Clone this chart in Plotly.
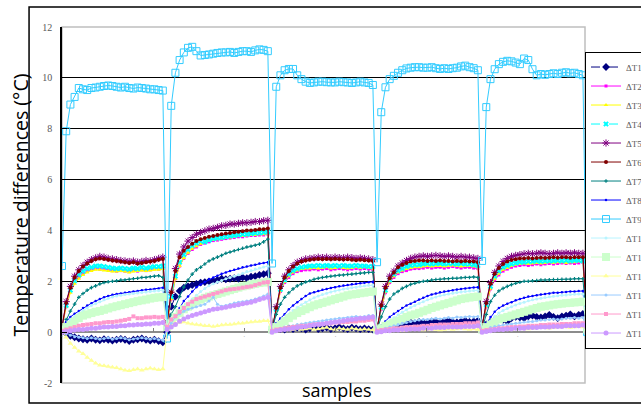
import plotly.graph_objects as go

# sample index (5 heating cycles of 25 samples; last point = start of the next, clipped cycle)
samples = list(range(126))

T1 = [0.05, -0.05, -0.15, -0.2, -0.25, -0.28, -0.3, -0.25, -0.3, -0.32, -0.28, -0.3, -0.33, -0.3, -0.27, -0.3, -0.35, -0.3, -0.28, -0.25, -0.3, -0.33, -0.3, -0.35, -0.4,
      0.0, 1.0, 1.4, 1.62, 1.75, 1.8, 1.85, 1.9, 1.95, 1.97, 2.0, 2.02, 2.05, 2.1, 2.08, 2.1, 2.12, 2.1, 2.15, 2.12, 2.18, 2.2, 2.25, 2.28, 2.32,
      0.1, 0.15, 0.12, 0.1, 0.15, 0.12, 0.18, 0.15, 0.1, 0.15, 0.2, 0.12, 0.15, 0.18, 0.12, 0.15, 0.2, 0.15, 0.12, 0.18, 0.15, 0.12, 0.15, 0.12, 0.1,
      0.1, 0.15, 0.2, 0.25, 0.28, 0.3, 0.35, 0.32, 0.38, 0.35, 0.4, 0.38, 0.35, 0.42, 0.4, 0.38, 0.42, 0.45, 0.4, 0.38, 0.42, 0.45, 0.4, 0.42, 0.45,
      0.1, 0.3, 0.4, 0.45, 0.5, 0.48, 0.42, 0.55, 0.6, 0.58, 0.55, 0.62, 0.65, 0.6, 0.58, 0.62, 0.68, 0.6, 0.55, 0.62, 0.65, 0.7, 0.62, 0.68, 0.72,
      0.1]
T2 = [0.2, 1.0, 1.6, 1.95, 2.15, 2.3, 2.4, 2.45, 2.5, 2.48, 2.5, 2.45, 2.42, 2.4, 2.42, 2.4, 2.38, 2.42, 2.4, 2.45, 2.42, 2.45, 2.5, 2.48, 2.5,
      0.3, 1.3, 2.1, 2.6, 2.9, 3.1, 3.25, 3.35, 3.45, 3.5, 3.55, 3.6, 3.62, 3.65, 3.68, 3.7, 3.72, 3.75, 3.75, 3.78, 3.8, 3.8, 3.82, 3.82, 3.85,
      0.1, 0.85, 1.6, 1.95, 2.15, 2.3, 2.38, 2.42, 2.45, 2.45, 2.48, 2.45, 2.48, 2.5, 2.45, 2.48, 2.5, 2.48, 2.45, 2.48, 2.5, 2.48, 2.5, 2.48, 2.45,
      0.1, 0.9, 1.55, 1.95, 2.15, 2.3, 2.38, 2.42, 2.48, 2.5, 2.5, 2.52, 2.55, 2.52, 2.55, 2.55, 2.52, 2.55, 2.58, 2.55, 2.52, 2.55, 2.55, 2.52, 2.5,
      0.2, 1.0, 1.7, 2.05, 2.25, 2.4, 2.48, 2.55, 2.6, 2.62, 2.65, 2.62, 2.65, 2.68, 2.65, 2.68, 2.7, 2.68, 2.7, 2.72, 2.7, 2.72, 2.7, 2.72, 2.75,
      0.2]
T3 = [0.2, 1.0, 1.55, 1.9, 2.1, 2.25, 2.35, 2.4, 2.45, 2.45, 2.42, 2.4, 2.38, 2.38, 2.4, 2.38, 2.35, 2.38, 2.4, 2.42, 2.4, 2.42, 2.45, 2.45, 2.48,
      0.3, 1.3, 2.1, 2.6, 2.92, 3.12, 3.28, 3.38, 3.48, 3.55, 3.6, 3.62, 3.65, 3.68, 3.7, 3.72, 3.75, 3.78, 3.78, 3.8, 3.82, 3.82, 3.85, 3.85, 3.88,
      0.1, 0.85, 1.62, 1.98, 2.2, 2.35, 2.42, 2.48, 2.5, 2.5, 2.52, 2.5, 2.52, 2.55, 2.5, 2.52, 2.55, 2.52, 2.5, 2.52, 2.55, 2.52, 2.55, 2.52, 2.5,
      0.1, 0.92, 1.58, 1.98, 2.2, 2.35, 2.42, 2.48, 2.52, 2.55, 2.55, 2.58, 2.6, 2.58, 2.6, 2.6, 2.58, 2.6, 2.62, 2.6, 2.58, 2.6, 2.6, 2.58, 2.55,
      0.2, 1.02, 1.72, 2.1, 2.3, 2.45, 2.52, 2.6, 2.65, 2.68, 2.7, 2.68, 2.7, 2.72, 2.7, 2.72, 2.75, 2.72, 2.75, 2.75, 2.72, 2.75, 2.75, 2.78, 2.78,
      0.2]
T4 = [0.2, 1.05, 1.65, 2.02, 2.25, 2.4, 2.5, 2.55, 2.6, 2.6, 2.58, 2.55, 2.52, 2.5, 2.52, 2.5, 2.48, 2.52, 2.5, 2.55, 2.52, 2.55, 2.58, 2.58, 2.6,
      0.3, 1.4, 2.2, 2.75, 3.05, 3.25, 3.4, 3.5, 3.58, 3.55, 3.62, 3.68, 3.7, 3.72, 3.75, 3.78, 3.8, 3.82, 3.85, 3.85, 3.88, 3.9, 3.9, 3.92, 3.95,
      0.1, 0.9, 1.68, 2.05, 2.28, 2.42, 2.5, 2.55, 2.58, 2.6, 2.6, 2.62, 2.6, 2.62, 2.6, 2.62, 2.6, 2.62, 2.6, 2.6, 2.62, 2.6, 2.6, 2.58, 2.58,
      0.1, 0.98, 1.65, 2.05, 2.28, 2.42, 2.5, 2.58, 2.62, 2.65, 2.65, 2.68, 2.7, 2.68, 2.7, 2.7, 2.68, 2.7, 2.7, 2.68, 2.7, 2.68, 2.68, 2.65, 2.62,
      0.2, 1.08, 1.8, 2.2, 2.4, 2.55, 2.62, 2.68, 2.72, 2.75, 2.75, 2.78, 2.78, 2.8, 2.78, 2.8, 2.8, 2.8, 2.82, 2.8, 2.82, 2.8, 2.82, 2.82, 2.8,
      0.2]
T5 = [0.2, 1.2, 1.8, 2.2, 2.45, 2.62, 2.75, 2.85, 2.92, 2.98, 2.95, 2.9, 2.88, 2.85, 2.82, 2.8, 2.78, 2.8, 2.75, 2.78, 2.82, 2.8, 2.85, 2.9, 2.95,
      0.4, 1.57, 2.5, 3.07, 3.35, 3.58, 3.72, 3.85, 3.92, 3.98, 4.05, 4.08, 4.12, 4.18, 4.2, 4.25, 4.25, 4.28, 4.3, 4.3, 4.32, 4.35, 4.35, 4.38, 4.4,
      0.1, 1.0, 1.8, 2.2, 2.45, 2.62, 2.75, 2.82, 2.88, 2.9, 2.92, 2.95, 2.93, 2.95, 2.92, 2.95, 2.93, 2.92, 2.95, 2.93, 2.9, 2.92, 2.9, 2.88, 2.85,
      0.1, 1.1, 1.8, 2.2, 2.4, 2.6, 2.72, 2.82, 2.9, 2.95, 2.98, 3.0, 2.98, 3.0, 3.02, 3.0, 2.98, 3.0, 2.98, 2.95, 2.98, 2.95, 2.95, 2.92, 2.9,
      0.2, 1.2, 1.95, 2.35, 2.6, 2.78, 2.9, 2.98, 3.02, 3.05, 3.08, 3.1, 3.08, 3.1, 3.12, 3.1, 3.08, 3.1, 3.12, 3.1, 3.12, 3.1, 3.12, 3.1, 3.1,
      0.2]
T6 = [0.2, 1.15, 1.75, 2.15, 2.4, 2.58, 2.7, 2.8, 2.87, 2.9, 2.88, 2.85, 2.82, 2.8, 2.78, 2.75, 2.72, 2.75, 2.7, 2.72, 2.75, 2.78, 2.8, 2.85, 2.88,
      0.35, 1.57, 2.4, 2.95, 3.2, 3.35, 3.48, 3.58, 3.65, 3.7, 3.75, 3.78, 3.82, 3.85, 3.88, 3.9, 3.93, 3.95, 3.97, 4.0, 4.0, 4.02, 4.05, 4.05, 4.08,
      0.1, 0.95, 1.75, 2.15, 2.4, 2.58, 2.7, 2.78, 2.82, 2.85, 2.87, 2.88, 2.87, 2.88, 2.87, 2.88, 2.87, 2.86, 2.87, 2.85, 2.83, 2.85, 2.83, 2.82, 2.8,
      0.1, 1.05, 1.75, 2.12, 2.35, 2.55, 2.65, 2.72, 2.78, 2.8, 2.82, 2.82, 2.8, 2.82, 2.8, 2.82, 2.8, 2.8, 2.78, 2.8, 2.78, 2.8, 2.78, 2.78, 2.75,
      0.2, 1.15, 1.9, 2.3, 2.52, 2.68, 2.78, 2.84, 2.87, 2.9, 2.9, 2.92, 2.9, 2.92, 2.93, 2.92, 2.93, 2.95, 2.93, 2.95, 2.95, 2.93, 2.95, 2.95, 2.95,
      0.2]
T7 = [0.1, 0.5, 0.83, 1.1, 1.37, 1.52, 1.65, 1.75, 1.82, 1.9, 1.95, 1.98, 2.0, 2.02, 2.05, 2.05, 2.08, 2.1, 2.12, 2.15, 2.15, 2.18, 2.2, 2.22, 2.15,
      0.3, 0.7, 1.0, 1.4, 1.77, 2.05, 2.28, 2.45, 2.55, 2.68, 2.8, 2.88, 2.95, 3.02, 3.1, 3.15, 3.2, 3.25, 3.3, 3.35, 3.38, 3.42, 3.46, 3.55, 3.66,
      0.1, 0.7, 1.1, 1.37, 1.55, 1.7, 1.82, 1.9, 1.97, 2.02, 2.08, 2.12, 2.15, 2.18, 2.2, 2.22, 2.24, 2.25, 2.27, 2.28, 2.3, 2.32, 2.33, 2.35, 2.35,
      0.1, 0.6, 1.0, 1.3, 1.5, 1.6, 1.72, 1.8, 1.88, 1.92, 1.97, 2.0, 2.02, 2.05, 2.07, 2.08, 2.1, 2.1, 2.12, 2.12, 2.14, 2.15, 2.15, 2.17, 2.15,
      0.1, 0.7, 1.2, 1.45, 1.62, 1.72, 1.8, 1.87, 1.92, 1.96, 2.0, 2.0, 2.02, 2.03, 2.05, 2.05, 2.06, 2.07, 2.07, 2.08, 2.08, 2.08, 2.1, 2.1, 2.1,
      0.1]
T8 = [0.2, 0.4, 0.6, 0.72, 0.83, 0.95, 1.05, 1.14, 1.22, 1.3, 1.37, 1.42, 1.47, 1.5, 1.52, 1.55, 1.57, 1.6, 1.62, 1.65, 1.67, 1.68, 1.7, 1.72, 1.75,
      0.3, 0.5, 0.7, 0.95, 1.22, 1.4, 1.6, 1.77, 1.87, 1.97, 2.08, 2.15, 2.22, 2.3, 2.35, 2.4, 2.45, 2.5, 2.55, 2.58, 2.62, 2.65, 2.7, 2.72, 2.75,
      0.15, 0.35, 0.55, 0.7, 0.9, 1.05, 1.18, 1.3, 1.42, 1.52, 1.57, 1.62, 1.67, 1.7, 1.74, 1.77, 1.8, 1.83, 1.85, 1.88, 1.9, 1.92, 1.94, 1.96, 1.98,
      0.1, 0.25, 0.43, 0.6, 0.72, 0.83, 0.95, 1.05, 1.12, 1.2, 1.28, 1.35, 1.42, 1.48, 1.52, 1.57, 1.6, 1.62, 1.65, 1.68, 1.7, 1.72, 1.74, 1.76, 1.77,
      0.1, 0.35, 0.6, 0.8, 0.95, 1.05, 1.12, 1.18, 1.25, 1.3, 1.35, 1.4, 1.42, 1.45, 1.48, 1.5, 1.52, 1.55, 1.55, 1.57, 1.58, 1.6, 1.6, 1.62, 1.62,
      0.1]
T9 = [2.6, 7.9, 8.95, 9.25, 9.6, 9.55, 9.52, 9.6, 9.62, 9.65, 9.68, 9.7, 9.68, 9.65, 9.62, 9.65, 9.6, 9.58, 9.62, 9.6, 9.58, 9.55, 9.55, 9.52, 9.5,
      -0.25, 8.9, 10.2, 10.7, 11.0, 11.18, 11.22, 11.05, 10.88, 10.9, 10.92, 10.95, 10.98, 11.0, 11.0, 11.02, 10.98, 11.02, 11.05, 11.05, 11.02, 11.08, 11.12, 11.1, 11.05,
      2.7, 9.65, 10.1, 10.3, 10.35, 10.35, 10.1, 9.95, 9.85, 9.8, 9.82, 9.85, 9.85, 9.83, 9.82, 9.82, 9.85, 9.83, 9.82, 9.8, 9.82, 9.85, 9.82, 9.8, 9.72,
      2.75, 8.65, 9.63, 9.95, 10.08, 10.2, 10.3, 10.37, 10.4, 10.42, 10.42, 10.4, 10.4, 10.42, 10.38, 10.35, 10.38, 10.35, 10.38, 10.4, 10.45, 10.48, 10.42, 10.38, 10.3,
      2.8, 8.85, 9.95, 10.34, 10.54, 10.63, 10.67, 10.65, 10.6, 10.54, 10.76, 10.7, 10.34, 10.1, 10.15, 10.12, 10.15, 10.18, 10.15, 10.2, 10.22, 10.18, 10.2, 10.15, 10.1,
      0.0]
T10 = [0.15, 0.3, 0.5, 0.62, 0.72, 0.85, 0.95, 1.05, 1.12, 1.2, 1.27, 1.33, 1.38, 1.42, 1.45, 1.48, 1.5, 1.52, 1.54, 1.56, 1.58, 1.6, 1.62, 1.63, 1.65,
       0.25, 0.4, 0.55, 0.75, 0.95, 1.15, 1.3, 1.45, 1.6, 1.72, 1.82, 1.9, 1.97, 2.03, 2.1, 2.15, 2.2, 2.26, 2.32, 2.38, 2.42, 2.48, 2.52, 2.56, 2.6,
       0.1, 0.25, 0.4, 0.55, 0.7, 0.85, 0.97, 1.08, 1.18, 1.27, 1.35, 1.42, 1.48, 1.53, 1.58, 1.62, 1.66, 1.7, 1.72, 1.75, 1.77, 1.8, 1.82, 1.84, 1.85,
       0.08, 0.2, 0.33, 0.45, 0.57, 0.68, 0.78, 0.88, 0.97, 1.05, 1.13, 1.2, 1.27, 1.33, 1.38, 1.43, 1.47, 1.5, 1.53, 1.56, 1.58, 1.6, 1.62, 1.64, 1.65,
       0.08, 0.25, 0.45, 0.62, 0.75, 0.85, 0.93, 1.0, 1.07, 1.13, 1.18, 1.23, 1.27, 1.3, 1.33, 1.36, 1.39, 1.41, 1.43, 1.45, 1.46, 1.48, 1.49, 1.5, 1.5,
       0.08]
T11 = [0.1, 0.2, 0.3, 0.42, 0.55, 0.65, 0.7, 0.75, 0.8, 0.83, 0.88, 0.93, 0.98, 1.02, 1.06, 1.1, 1.14, 1.18, 1.22, 1.25, 1.28, 1.32, 1.35, 1.37, 1.38,
       0.2, 0.35, 0.6, 0.75, 0.9, 1.0, 1.1, 1.22, 1.28, 1.35, 1.4, 1.45, 1.5, 1.55, 1.6, 1.65, 1.7, 1.75, 1.8, 1.83, 1.87, 1.9, 1.93, 1.95, 1.97,
       0.1, 0.2, 0.3, 0.43, 0.55, 0.65, 0.75, 0.83, 0.9, 0.98, 1.05, 1.1, 1.15, 1.2, 1.25, 1.3, 1.35, 1.4, 1.45, 1.48, 1.5, 1.53, 1.55, 1.58, 1.6,
       0.1, 0.15, 0.25, 0.3, 0.38, 0.45, 0.52, 0.6, 0.66, 0.7, 0.76, 0.82, 0.88, 0.95, 1.0, 1.05, 1.1, 1.15, 1.2, 1.25, 1.3, 1.33, 1.36, 1.38, 1.4,
       0.1, 0.2, 0.3, 0.4, 0.5, 0.55, 0.6, 0.65, 0.7, 0.75, 0.8, 0.85, 0.9, 0.95, 1.0, 1.02, 1.05, 1.08, 1.1, 1.12, 1.14, 1.15, 1.17, 1.18, 1.2,
       0.1]
T12 = [0.05, -0.2, -0.45, -0.6, -0.75, -0.85, -1.0, -1.12, -1.22, -1.3, -1.32, -1.35, -1.38, -1.4, -1.45, -1.5, -1.52, -1.48, -1.45, -1.5, -1.45, -1.42, -1.45, -1.48, -1.45,
       0.1, 0.3, 0.35, 0.38, 0.4, 0.35, 0.32, 0.3, 0.28, 0.25, 0.25, 0.22, 0.25, 0.28, 0.3, 0.3, 0.32, 0.35, 0.35, 0.38, 0.4, 0.42, 0.42, 0.45, 0.45,
       0.05, 0.1, 0.12, 0.1, 0.08, 0.1, 0.15, 0.1, 0.12, 0.15, 0.1, 0.12, 0.15, 0.18, 0.12, 0.1, 0.15, 0.12, 0.1, 0.15, 0.12, 0.1, 0.12, 0.1, 0.08,
       0.05, 0.05, 0.08, 0.1, 0.08, 0.1, 0.05, 0.08, 0.1, 0.12, 0.1, 0.08, 0.1, 0.12, 0.1, 0.08, 0.1, 0.12, 0.1, 0.12, 0.15, 0.12, 0.1, 0.12, 0.1,
       0.05, 0.1, 0.12, 0.1, 0.12, 0.15, 0.12, 0.1, 0.15, 0.18, 0.15, 0.12, 0.15, 0.18, 0.2, 0.18, 0.15, 0.18, 0.2, 0.22, 0.2, 0.18, 0.2, 0.22, 0.2,
       0.05]
T13 = [0.0, -0.05, -0.12, -0.18, -0.2, -0.22, -0.25, -0.22, -0.25, -0.28, -0.25, -0.22, -0.28, -0.25, -0.22, -0.25, -0.3, -0.27, -0.25, -0.22, -0.25, -0.28, -0.25, -0.3, -0.32,
       0.1, 0.35, 0.6, 0.72, 0.82, 0.9, 0.95, 1.0, 1.05, 1.1, 1.22, 1.37, 1.1, 1.02, 1.05, 1.1, 1.15, 1.18, 1.2, 1.22, 1.25, 1.3, 1.35, 1.42, 1.5,
       0.05, 0.1, 0.15, 0.2, 0.22, 0.25, 0.3, 0.32, 0.35, 0.38, 0.4, 0.42, 0.45, 0.48, 0.5, 0.52, 0.55, 0.55, 0.58, 0.6, 0.62, 0.6, 0.62, 0.65, 0.65,
       0.05, 0.1, 0.15, 0.2, 0.25, 0.3, 0.35, 0.38, 0.42, 0.45, 0.48, 0.5, 0.5, 0.52, 0.55, 0.52, 0.55, 0.58, 0.55, 0.6, 0.58, 0.6, 0.62, 0.6, 0.62,
       0.05, 0.1, 0.18, 0.22, 0.25, 0.28, 0.3, 0.32, 0.35, 0.38, 0.4, 0.42, 0.42, 0.45, 0.48, 0.48, 0.5, 0.52, 0.5, 0.52, 0.55, 0.55, 0.58, 0.55, 0.58,
       0.05]
T14 = [0.05, 0.1, 0.15, 0.2, 0.25, 0.28, 0.3, 0.32, 0.35, 0.35, 0.38, 0.4, 0.4, 0.42, 0.45, 0.48, 0.52, 0.62, 0.55, 0.55, 0.58, 0.58, 0.6, 0.58, 0.6,
       0.2, 0.5, 0.63, 0.8, 0.95, 1.1, 1.2, 1.3, 1.35, 1.4, 1.45, 1.5, 1.55, 1.6, 1.65, 1.68, 1.7, 1.72, 1.75, 1.78, 1.8, 1.85, 1.9, 1.95, 1.97,
       0.05, 0.1, 0.12, 0.15, 0.18, 0.2, 0.22, 0.25, 0.25, 0.28, 0.3, 0.32, 0.32, 0.35, 0.35, 0.38, 0.38, 0.4, 0.4, 0.42, 0.42, 0.45, 0.45, 0.48, 0.5,
       0.05, 0.08, 0.1, 0.12, 0.15, 0.15, 0.18, 0.2, 0.2, 0.22, 0.22, 0.25, 0.25, 0.28, 0.28, 0.3, 0.3, 0.3, 0.32, 0.32, 0.32, 0.35, 0.35, 0.35, 0.38,
       0.05, 0.08, 0.1, 0.12, 0.15, 0.15, 0.18, 0.2, 0.2, 0.22, 0.22, 0.25, 0.25, 0.25, 0.28, 0.28, 0.3, 0.3, 0.3, 0.32, 0.32, 0.32, 0.35, 0.35, 0.35,
       0.05]
T15 = [0.0, 0.03, 0.05, 0.08, 0.1, 0.1, 0.12, 0.15, 0.15, 0.18, 0.2, 0.2, 0.22, 0.22, 0.25, 0.25, 0.28, 0.28, 0.3, 0.3, 0.32, 0.32, 0.35, 0.35, 0.38,
       0.1, 0.2, 0.3, 0.43, 0.52, 0.6, 0.65, 0.7, 0.75, 0.8, 0.85, 0.9, 0.92, 0.95, 0.98, 1.02, 1.05, 1.08, 1.12, 1.15, 1.18, 1.22, 1.28, 1.33, 1.37,
       0.0, 0.05, 0.08, 0.1, 0.12, 0.15, 0.18, 0.2, 0.22, 0.25, 0.28, 0.3, 0.32, 0.35, 0.38, 0.4, 0.42, 0.45, 0.48, 0.5, 0.52, 0.55, 0.55, 0.58, 0.6,
       0.0, 0.02, 0.05, 0.05, 0.08, 0.08, 0.1, 0.1, 0.12, 0.12, 0.12, 0.15, 0.15, 0.15, 0.18, 0.18, 0.18, 0.2, 0.2, 0.2, 0.2, 0.22, 0.22, 0.22, 0.25,
       0.0, 0.03, 0.05, 0.08, 0.1, 0.1, 0.12, 0.12, 0.15, 0.15, 0.15, 0.18, 0.18, 0.18, 0.2, 0.2, 0.2, 0.22, 0.22, 0.22, 0.25, 0.25, 0.25, 0.25, 0.28,
       0.0]

series_names = ["ΔT1", "ΔT2", "ΔT3", "ΔT4", "ΔT5", "ΔT6", "ΔT7", "ΔT8",
                "ΔT9", "ΔT10", "ΔT11", "ΔT12", "ΔT13", "ΔT14", "ΔT15"]
series_values = [T1, T2, T3, T4, T5, T6, T7, T8, T9, T10, T11, T12, T13, T14, T15]

y_ticks = [-2, 0, 2, 4, 6, 8, 10, 12]
x_ticks = [0, 21.7, 43.4, 65.1, 86.8, 108.5]

for v in series_values:
    assert len(v) == len(samples), len(v)

styles = [
    dict(color="#000080", dash="dash", symbol="diamond", size=6, lw=1),
    dict(color="#FF00FF", dash="solid", symbol="square", size=3, lw=1),
    dict(color="#FFFF00", dash="solid", symbol="triangle-up", size=4, lw=1),
    dict(color="#00FFFF", dash="dash", symbol="x", size=5, lw=1),
    dict(color="#800080", dash="solid", symbol="asterisk-open", size=6, lw=1),
    dict(color="#800000", dash="solid", symbol="circle", size=4, lw=1),
    dict(color="#008080", dash="solid", symbol="cross", size=3, lw=1),
    dict(color="#0000FF", dash="solid", symbol="circle", size=2.5, lw=1),
    dict(color="#33CCFF", dash="solid", symbol="square-open", size=7, lw=1),
    dict(color="#B8F4FF", dash="solid", symbol="circle", size=3, lw=1),
    dict(color="#CCFFCC", dash="solid", symbol="square", size=8, lw=1),
    dict(color="#FFFF99", dash="solid", symbol="triangle-up", size=5, lw=1),
    dict(color="#99CCFF", dash="solid", symbol="circle", size=3, lw=1),
    dict(color="#FF99CC", dash="solid", symbol="square", size=4, lw=1),
    dict(color="#CC99FF", dash="solid", symbol="circle", size=5, lw=1),
]

fig = go.Figure()
for name, vals, st in zip(series_names, series_values, styles):
    marker = dict(symbol=st["symbol"], size=st["size"], color=st["color"])
    if st["symbol"].endswith("open"):
        marker["line"] = dict(color=st["color"], width=1)
    fig.add_trace(go.Scatter(
        x=samples, y=vals, name=name, mode="lines+markers",
        line=dict(color=st["color"], width=st["lw"], dash=st["dash"]),
        marker=marker,
    ))

fig.update_layout(
    width=641, height=405,
    margin=dict(l=62, r=56, t=27, b=22, autoexpand=False),
    paper_bgcolor="white", plot_bgcolor="white",
    showlegend=True,
    legend=dict(x=1.0, xanchor="left", y=0.514, yanchor="middle",
                bgcolor="white", bordercolor="black", borderwidth=1,
                font=dict(family="Liberation Serif", size=9, color="#595959"),
                itemwidth=30, tracegroupgap=0),
    xaxis=dict(range=[0, 124.5], showgrid=False, zeroline=False, showline=False,
               anchor="free", position=2 / 14, automargin=False,
               tickvals=x_ticks, ticktext=["·"] * len(x_ticks),
               ticks="inside", ticklen=4, tickcolor="#808080",
               tickfont=dict(family="Liberation Serif", size=6, color="#808080")),
    yaxis=dict(range=[-2, 12], tickvals=y_ticks, ticktext=[str(t) for t in y_ticks],
               automargin=False,
               showgrid=False, zeroline=True, zerolinecolor="#8c8c8c", zerolinewidth=1.5,
               showline=True, linecolor="black", linewidth=1.5,
               ticks="inside", ticklen=5, tickcolor="black",
               tickfont=dict(family="Liberation Serif", size=10, color="#595959"),
               ticklabelstandoff=6,
               minor=dict(tickvals=[2, 4, 6, 8, 10], showgrid=True, gridcolor="black",
                          gridwidth=1, ticks=""),
               title=dict(text="Temperature differences (°C)",
                          font=dict(family="Open Sans", size=19.5, color="black"),
                          standoff=8)),
    shapes=[
        dict(type="rect", xref="paper", yref="paper", x0=0, x1=1, y0=0, y1=1,
             line=dict(color="#bfbfbf", width=1.5), layer="below"),
        dict(type="rect", xref="paper", yref="paper", x0=-0.063, x1=1.2, y0=-0.056, y1=1.056,
             line=dict(color="black", width=1.5), layer="above"),
    ],
    annotations=[
        dict(text="samples", xref="paper", yref="paper", x=0.526, y=-0.02,
             xanchor="center", yanchor="middle", showarrow=False,
             font=dict(family="Open Sans", size=18, color="black")),
    ],
)

fig.write_html("out.html", config={"displayModeBar": False},
               post_script="document.body.style.margin='0';document.body.style.overflow='hidden';")
